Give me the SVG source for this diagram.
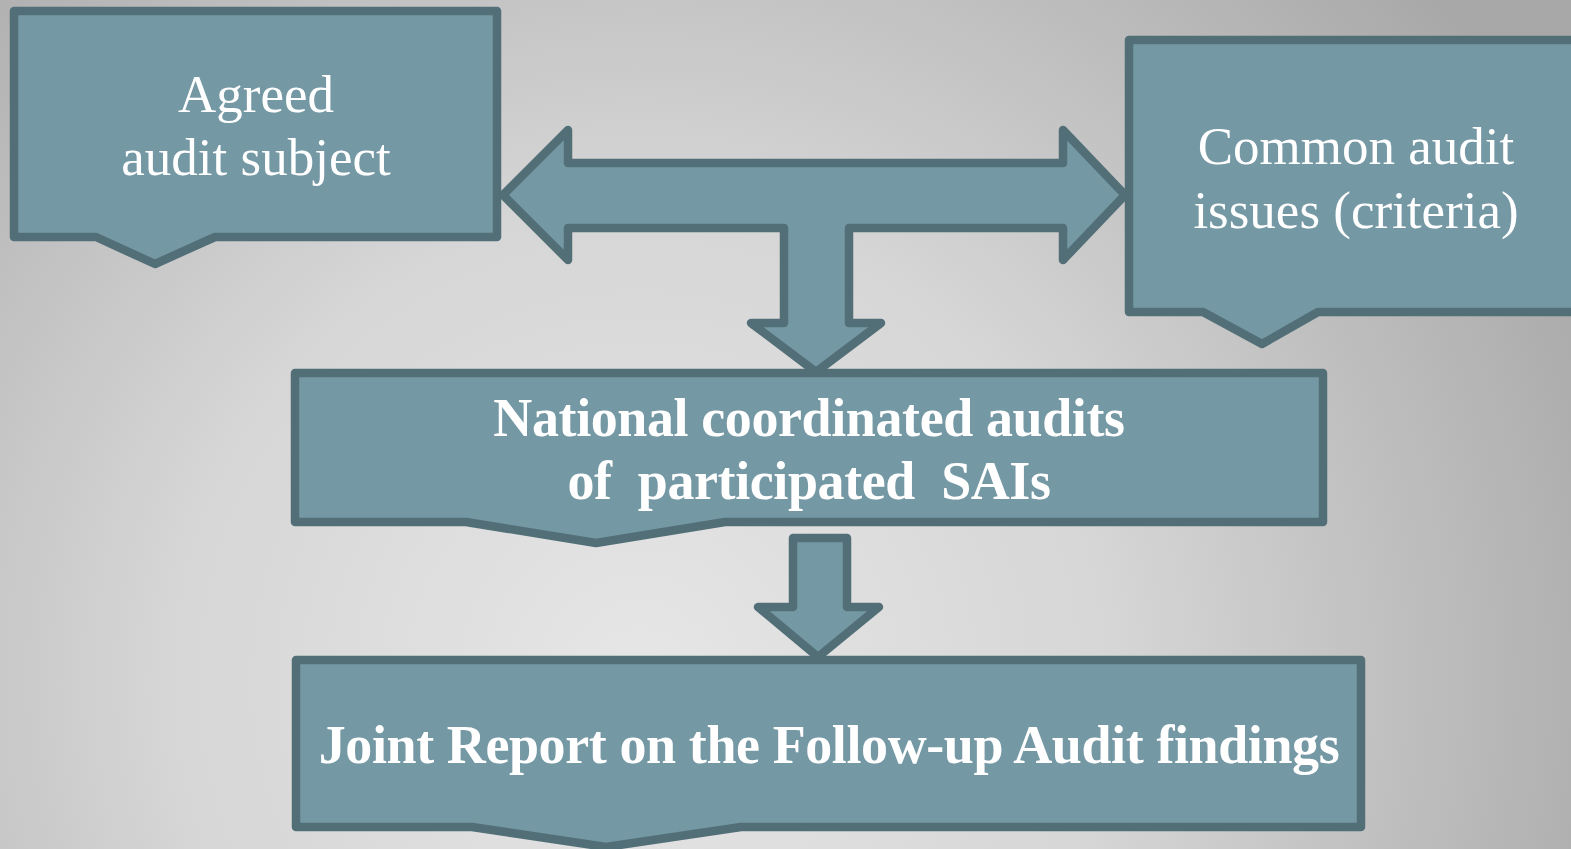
<svg xmlns="http://www.w3.org/2000/svg" width="1571" height="849" viewBox="0 0 1571 849">
<defs>
<radialGradient id="bg" cx="640" cy="680" r="1050" gradientUnits="userSpaceOnUse">
<stop offset="0" stop-color="#e6e6e6"/>
<stop offset="0.45" stop-color="#d6d6d6"/>
<stop offset="1" stop-color="#a8a8a8"/>
</radialGradient>
<style>
.shape{fill:#7498a4;stroke:#526f78;stroke-width:8.5;stroke-linejoin:round}
.reg{font-family:"Liberation Serif","Times New Roman",serif;font-size:53px;fill:#ffffff;text-anchor:middle}
.bold{font-family:"Liberation Serif","Times New Roman",serif;font-size:54px;font-weight:bold;fill:#ffffff;text-anchor:middle;letter-spacing:-0.4px;white-space:pre}
</style>
</defs>
<rect x="0" y="0" width="1571" height="849" fill="url(#bg)"/>
<g id="node-agreed">
<path class="shape" d="M14,11 H497 V237 H215 L155,264 L96,237 H14 Z"/>
<text class="reg" x="256" y="112">Agreed</text>
<text class="reg" x="256" y="175">audit subject</text>
</g>
<g id="node-common">
<path class="shape" d="M1129,40 H1590 V312 H1318 L1262,344 L1203,312 H1129 Z"/>
<text class="reg" x="1356" y="164">Common audit</text>
<text class="reg" x="1356" y="228">issues (criteria)</text>
</g>
<g id="connectors">
<path class="shape" d="M503,195 L568,130 V163 H1063 V130 L1125,195 L1063,260 V228 H849 V323 H881 L816,372 L751,323 H784 V228 H568 V260 Z"/>
<path class="shape" d="M793,538 H847 V607 H879 L818,657 L758,607 H793 Z"/>
</g>
<g id="node-national">
<path class="shape" d="M295,373 H1323 V522 H725 L596,543 L466,522 H295 Z"/>
<text class="bold" x="809" y="436">National coordinated audits</text>
<text class="bold" x="809" y="499">of  participated  SAIs</text>
</g>
<g id="node-joint">
<path class="shape" d="M296,660 H1361 V827 H741 L606,847 L472,827 H296 Z"/>
<text class="bold" x="829" y="763">Joint Report on the Follow-up Audit findings</text>
</g>
</svg>
